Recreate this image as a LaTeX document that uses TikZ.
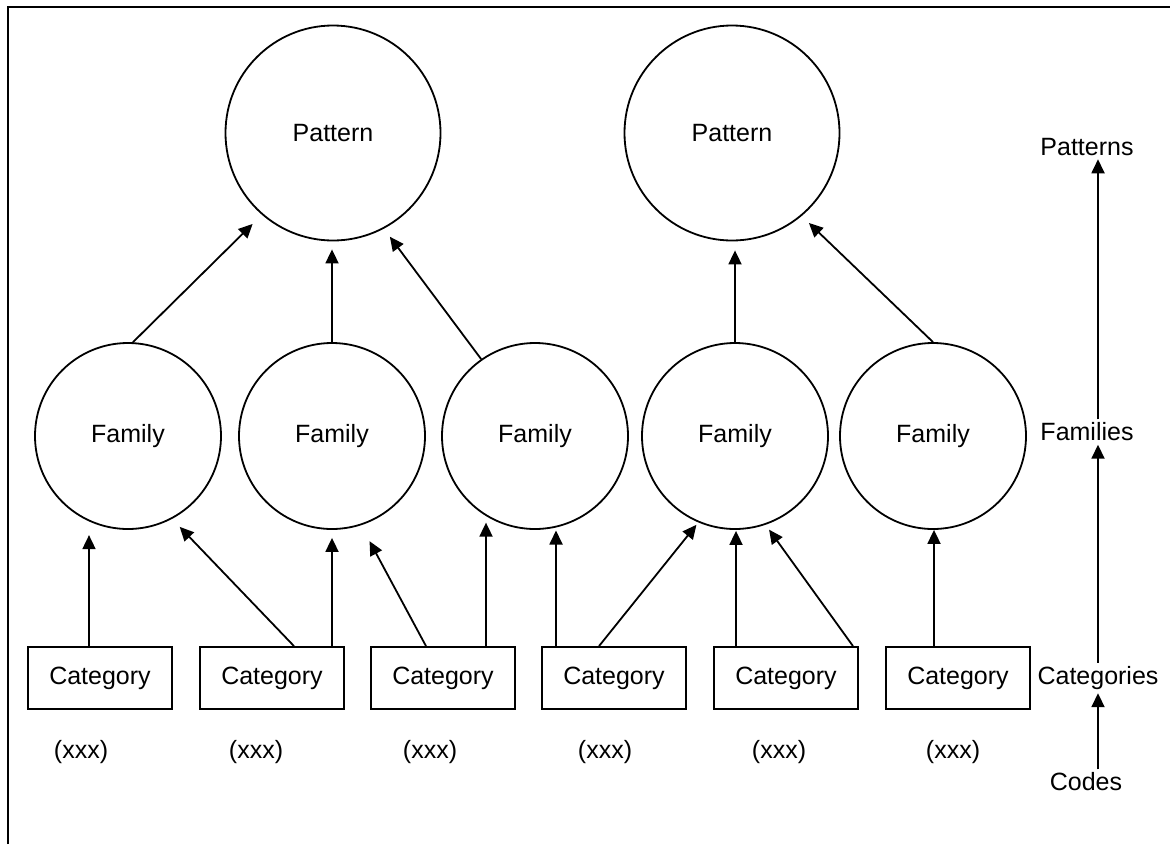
\documentclass[tikz,border=0pt]{standalone}
\usepackage{fontspec}
\setmainfont{Liberation Sans}
\usetikzlibrary{arrows.meta}
\tikzset{
  pat/.style={draw, circle, minimum size=215pt, inner sep=0pt, line width=1.8pt},
  fam/.style={draw, circle, minimum size=186pt, inner sep=0pt, line width=1.8pt},
  cat/.style={draw, rectangle, minimum width=144pt, minimum height=62pt, line width=1.8pt},
  arr/.style={-{Triangle[length=14pt,width=13pt]}, line width=1.8pt},
}
\begin{document}
\begin{tikzpicture}[x=1pt, y=-1pt, font=\fontsize{25}{30}\selectfont]
    \useasboundingbox (0,0) rectangle (1170,844);
    \draw[line width=2.2pt] (8,844) -- (8,7) -- (1170,7);
    % patterns
    \node[pat] (pat1) at (333,133) {Pattern};
    \node[pat] (pat2) at (732,133) {Pattern};
    % families
    \foreach \i/\x in {1/128,2/332,3/535,4/735,5/933}
        \node[fam] (fam\i) at (\x,436) {Family};
    % categories and codes
    \foreach \i/\x in {1/100,2/272,3/443,4/614,5/786,6/958}
        \node[cat] (cat\i) at (\x,678) {Category};
    \foreach \i/\x in {1/81,2/256,3/430,4/605,5/779,6/953}
        \node (code\i) at (\x,752) {(xxx)};
    % families to patterns
    \draw[arr, shorten >=13pt] (fam1.87) -- (pat1.229);
    \draw[arr, shorten >=8pt] (fam2.north) -- (fam2.north |- pat1.south);
    \draw[arr, shorten >=10pt] (fam3.125) -- (pat1.298);
    \draw[arr, shorten >=9pt] (fam4.north) -- (fam4.north |- pat2.south);
    \draw[arr, shorten >=10pt] (fam5.north) -- (pat2.310);
    % categories to families
    \draw[arr, shorten >=14pt] ([xshift=-11pt]cat1.north) -- ([xshift=-11pt]cat1.north |- fam1.245);
    \draw[arr, shorten >=11pt] ([xshift=22pt]cat2.north) -- (fam1.298);
    \draw[arr, shorten >=8pt] ([xshift=60pt]cat2.north) -- ([xshift=60pt]cat2.north |- fam2.south);
    \draw[arr, shorten >=18pt] ([xshift=-17pt]cat3.north) -- (fam2.288);
    \draw[arr, shorten >=7pt] ([xshift=43pt]cat3.north) -- ([xshift=43pt]cat3.north |- fam3.238);
    \draw[arr, shorten >=3pt] ([xshift=-58pt]cat4.north) -- ([xshift=-58pt]cat4.north |- fam3.283);
    \draw[arr, shorten >=3pt] ([xshift=-15pt]cat4.north) -- (fam4.247);
    \draw[arr, shorten >=1pt] ([xshift=-50pt]cat5.north) -- ([xshift=-50pt]cat5.north |- fam4.south);
    \draw[arr, shorten >=6pt] ([xshift=67pt]cat5.north) -- (fam4.289);
    \draw[arr] ([xshift=-24pt]cat6.north) -- ([xshift=-24pt]cat6.north |- fam5.south);
    % levels
    \node (pats) at (1087,147) {Patterns};
    \node (fams) at (1087,432) {Families};
    \node (cats) at (1098,678) {Categories};
    \node (codes) at (1086,782) {Codes};
    \draw[arr] (codes.north -| cats) -- (cats.south);
    \draw[arr] (cats.north) -- (cats.north |- fams.south);
    \draw[arr] (fams.north -| cats) -- (pats.south -| cats);
\end{tikzpicture}
\end{document}
